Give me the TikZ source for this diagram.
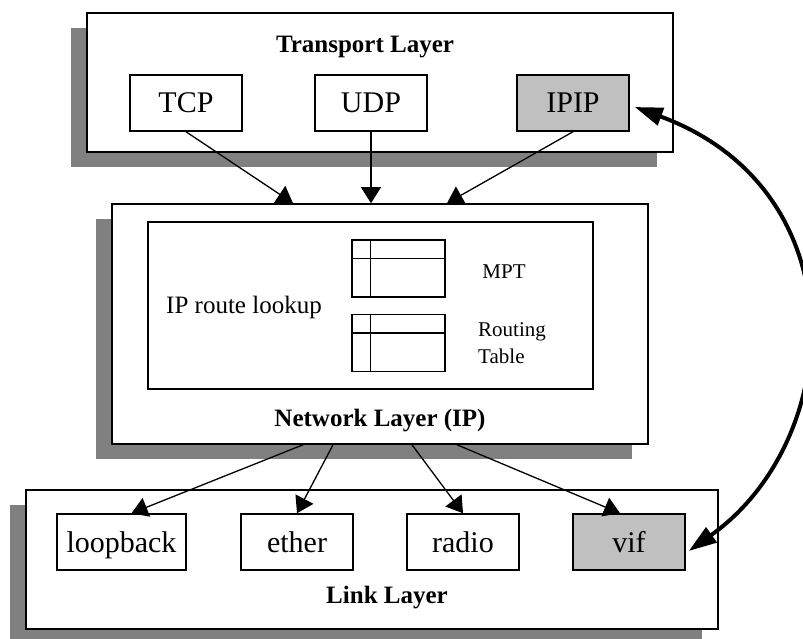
\documentclass[tikz,border=0pt]{standalone}
\usepackage{fontspec}
\setmainfont{Liberation Serif}
\usetikzlibrary{arrows.meta,shadows}
\definecolor{shadowgray}{HTML}{808080}
\definecolor{boxgray}{HTML}{C0C0C0}
\newcommand\bigtxt{\fontsize{30}{36}\selectfont}
\newcommand\lbltxt{\fontsize{25}{30}\selectfont\bfseries}
\begin{document}
\begin{tikzpicture}[x=1pt,y=-1pt,
  layer/.style={draw=black,line width=1.6pt,fill=white,inner sep=0pt,
    drop shadow={shadow xshift=-16pt,shadow yshift=-15pt,fill=shadowgray,opacity=1}},
  sub/.style={draw=black,line width=1.5pt,fill=white,inner sep=0pt,
    minimum width=112pt,minimum height=56pt,font=\bigtxt,text height=20pt,text depth=0pt},
  subg/.style={sub,fill=boxgray},
  lbl/.style={inner sep=0pt,font=\lbltxt,anchor=base},
  txt/.style={inner sep=0pt},
  tbl/.style={draw=black,line width=1.5pt,inner sep=0pt,minimum width=93pt,minimum height=57pt},
  conn/.style={line width=1.3pt,-{Triangle[length=16pt,width=20pt]}},
  loopconn/.style={line width=4pt,{Triangle[length=28pt,width=18pt]}-{Triangle[length=28pt,width=18pt]}}
]
\useasboundingbox (0,0) rectangle (803,639);
% layers
\node[layer,minimum width=586pt,minimum height=139pt] (transport) at (380,82.5) {};
\node[layer,minimum width=536pt,minimum height=240pt] (network) at (380,324) {};
\node[layer,minimum width=692pt,minimum height=139pt] (link) at (372,559.5) {};
% transport
\node[lbl] (tlabel) at (365,53) {Transport Layer};
\node[sub] (tcp) at (186,103) {TCP};
\node[sub] (udp) at (371,103) {UDP};
\node[subg] (ipip) at (573,103) {IPIP};
% network
\node[draw=black,line width=1.5pt,inner sep=0pt,minimum width=445pt,minimum height=167pt] (inner) at (370.5,305.5) {};
\node[txt,font=\fontsize{25}{30}\selectfont] (lookup) at (244,307) {IP route lookup};
\node[tbl] (mpt) at (398.5,268.5) {};
\draw[line width=1.5pt] (mpt.north west) ++(0,19) coordinate (m1) -- (m1 -| mpt.east);
\draw[line width=1.5pt] (mpt.north west) ++(19,0) coordinate (m2) -- (m2 |- mpt.south);
\node[tbl] (rt) at (398.5,343) {};
\draw[line width=1.5pt] (rt.north west) ++(0,19) coordinate (r1) -- (r1 -| rt.east);
\draw[line width=1.5pt] (rt.north west) ++(19,0) coordinate (r2) -- (r2 |- rt.south);
\node[txt,font=\fontsize{21}{25}\selectfont] (mptlabel) at (504,272) {MPT};
\node[txt,font=\fontsize{21}{27}\selectfont,align=left,anchor=west] (rtlabel) at (478,343) {Routing\\Table};
\node[lbl] (nlabel) at (380,426) {Network Layer (IP)};
% link
\node[sub,minimum width=129pt] (loopback) at (121.5,542) {loopback};
\node[sub] (ether) at (297,542) {ether};
\node[sub] (radio) at (463,542) {radio};
\node[subg] (vif) at (629,542) {vif};
\node[lbl] (llabel) at (387,603) {Link Layer};
% connectors
\draw[conn] (tcp.south) -- ([xshift=-87pt]network.north);
\draw[conn] (udp.south) -- ([xshift=-9pt]network.north);
\draw[conn] (ipip.south) -- ([xshift=67pt]network.north);
\draw[conn] ([xshift=-77pt]network.south) -- ([xshift=10pt]loopback.north);
\draw[conn] ([xshift=-47pt]network.south) -- (ether.north);
\draw[conn] ([xshift=32pt]network.south) -- (radio.north);
\draw[conn] ([xshift=77pt]network.south) -- ([xshift=-9pt]vif.north);
\draw[loopconn] ([shift={(5pt,-4pt)}]ipip.east) .. controls (860,190) and (845,440) .. ([xshift=3pt,yshift=-9pt]vif.east);
\end{tikzpicture}
\end{document}
